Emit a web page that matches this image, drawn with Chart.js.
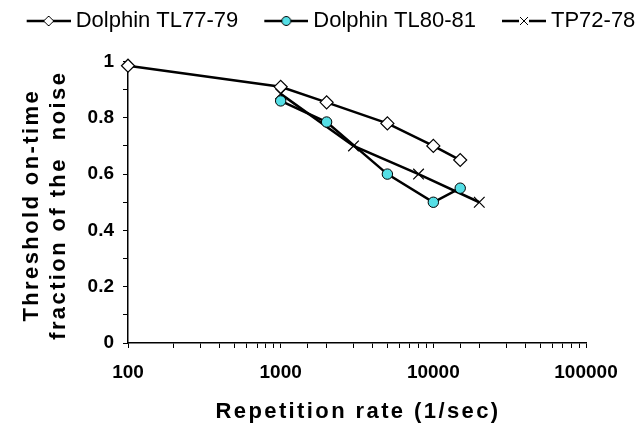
<!DOCTYPE html>
<html>
<head>
<meta charset="utf-8">
<script src="https://cdn.jsdelivr.net/npm/chart.js@4"></script>
<style>
  html, body { margin: 0; padding: 0; background: #fff; }
  #wrap { width: 642px; height: 426px; position: relative; }
</style>
</head>
<body>
<div id="wrap"><canvas id="chart"></canvas></div>
<script>
// series
const seriesNames = ["Dolphin TL77-79", "Dolphin TL80-81", "TP72-78"];

const rate7779 = [100, 1000, 2000, 5000, 10000, 15000];
const thr7779 = [0.985, 0.91, 0.855, 0.78, 0.70, 0.65];

const rate8081 = [1000, 2000, 5000, 10000, 15000];
const thr8081 = [0.86, 0.785, 0.60, 0.50, 0.55];

const rateTP = [1000, 3000, 8000, 20000];
const thrTP = [0.885, 0.70, 0.60, 0.50];

const xDecades = [100, 1000, 10000, 100000];
const yLabelTicks = [0, 0.2, 0.4, 0.6, 0.8, 1];

const xTitle = "Repetition rate (1/sec)";
const yTitle = ["Threshold on-time", "fraction of the  noise"];

const FONT = '"Liberation Sans", Arial, sans-serif';
const CYAN = "#55dfe6";

Chart.defaults.font.family = FONT;
Chart.defaults.color = "#000";

function toPoints(xs, ys) {
  return xs.map((x, i) => ({ x: x, y: ys[i] }));
}

// legend symbol: line with the marker in the middle, right-aligned in the image
function legendSymbol(kind) {
  const c = document.createElement("canvas");
  c.width = 70;
  c.height = 16;
  const g = c.getContext("2d");
  const cy = 8, x0 = 26, x1 = 70, mx = 48;
  g.strokeStyle = "#000";
  g.lineWidth = 2.5;
  g.beginPath();
  g.moveTo(x0, cy);
  g.lineTo(x1, cy);
  g.stroke();
  g.lineWidth = 1;
  if (kind === "diamond") {
    g.fillStyle = "#fff";
    g.beginPath();
    g.moveTo(mx, cy - 5);
    g.lineTo(mx + 5, cy);
    g.lineTo(mx, cy + 5);
    g.lineTo(mx - 5, cy);
    g.closePath();
    g.fill();
    g.stroke();
  } else if (kind === "circle") {
    g.fillStyle = CYAN;
    g.beginPath();
    g.arc(mx, cy, 4.5, 0, Math.PI * 2);
    g.fill();
    g.stroke();
  } else {
    g.fillStyle = "#fff";
    g.fillRect(mx - 5, cy - 5, 10, 10);
    g.beginPath();
    g.moveTo(mx - 4, cy - 4);
    g.lineTo(mx + 4, cy + 4);
    g.moveTo(mx + 4, cy - 4);
    g.lineTo(mx - 4, cy + 4);
    g.stroke();
  }
  return c;
}

const symbols = [legendSymbol("diamond"), legendSymbol("circle"), legendSymbol("cross")];

// make the legend box tall enough so the plot starts where the original does
const legendSpace = {
  id: "legendSpace",
  afterInit(chart) {
    const lg = chart.legend;
    if (!lg) return;
    const fit = lg.fit;
    lg.fit = function () {
      fit.call(this);
      this.height = 57.5;
    };
  }
};

// axis titles with letter spacing, drawn after the chart
const axisTitles = {
  id: "axisTitles",
  afterDraw(chart) {
    const ctx = chart.ctx;
    const a = chart.chartArea;
    ctx.save();
    ctx.fillStyle = "#000";
    ctx.font = "bold 22px " + FONT;
    ctx.letterSpacing = "2.4px";
    ctx.textAlign = "center";
    ctx.textBaseline = "alphabetic";
    ctx.fillText(xTitle, (a.left + a.right) / 2 + 1, 418);
    ctx.translate(38, (a.top + a.bottom) / 2 + 3);
    ctx.rotate(-Math.PI / 2);
    ctx.fillText(yTitle[0], 0, 0);
    ctx.fillText(yTitle[1], 0, 27);
    ctx.restore();
  }
};

const ctx = document.getElementById("chart").getContext("2d");

new Chart(ctx, {
  type: "line",
  data: {
    datasets: [
      {
        label: seriesNames[0],
        data: toPoints(rate7779, thr7779),
        borderColor: "#000",
        borderWidth: 2.5,
        clip: false,
        pointStyle: "rectRot",
        pointRadius: 6.5,
        pointBackgroundColor: "#fff",
        pointBorderColor: "#000",
        pointBorderWidth: 1.2
      },
      {
        label: seriesNames[1],
        data: toPoints(rate8081, thr8081),
        borderColor: "#000",
        borderWidth: 2.5,
        clip: false,
        pointStyle: "circle",
        pointRadius: 5.2,
        pointBackgroundColor: CYAN,
        pointBorderColor: "#000",
        pointBorderWidth: 1
      },
      {
        label: seriesNames[2],
        data: toPoints(rateTP, thrTP),
        borderColor: "#000",
        borderWidth: 2.5,
        clip: false,
        pointStyle: "crossRot",
        pointRadius: 7.5,
        pointBorderColor: "#000",
        pointBorderWidth: 1.2
      }
    ]
  },
  options: {
    responsive: true,
    maintainAspectRatio: false,
    animation: false,
    events: [],
    layout: { padding: { top: 4, left: 0, right: 0, bottom: 0 } },
    elements: { line: { tension: 0, fill: false } },
    plugins: {
      tooltip: { enabled: false },
      legend: {
        position: "top",
        labels: {
          usePointStyle: true,
          pointStyleWidth: 58,
          padding: 6,
          color: "#000",
          font: { size: 22, family: FONT },
          generateLabels(chart) {
            const items = Chart.defaults.plugins.legend.labels.generateLabels(chart);
            items.forEach((it, i) => { it.pointStyle = symbols[i]; });
            return items;
          }
        }
      }
    },
    scales: {
      x: {
        type: "logarithmic",
        min: 100,
        max: 100000,
        border: { display: true, color: "#000", width: 1.5 },
        grid: { display: true, drawOnChartArea: false, drawTicks: true, tickLength: 5, color: "#000", lineWidth: 1 },
        ticks: {
          autoSkip: false,
          maxRotation: 0,
          padding: 13,
          color: "#000",
          font: { size: 19, weight: "bold" },
          callback: (v) => (xDecades.includes(v) ? String(v) : "")
        },
        afterFit: (scale) => {
          scale.height = 83;
          scale.paddingRight = 56;
        }
      },
      y: {
        min: 0,
        max: 1,
        border: { display: true, color: "#000", width: 1.5 },
        grid: { display: true, drawOnChartArea: false, drawTicks: true, tickLength: 5, color: "#000", lineWidth: 1 },
        ticks: {
          stepSize: 0.1,
          padding: 9,
          color: "#000",
          font: { size: 19, weight: "bold" },
          callback: (v) => {
            const r = Number(v.toFixed(1));
            return yLabelTicks.includes(r) ? String(r) : "";
          }
        },
        afterFit: (scale) => {
          scale.width = 128;
        }
      }
    }
  },
  plugins: [legendSpace, axisTitles]
});
</script>
</body>
</html>
